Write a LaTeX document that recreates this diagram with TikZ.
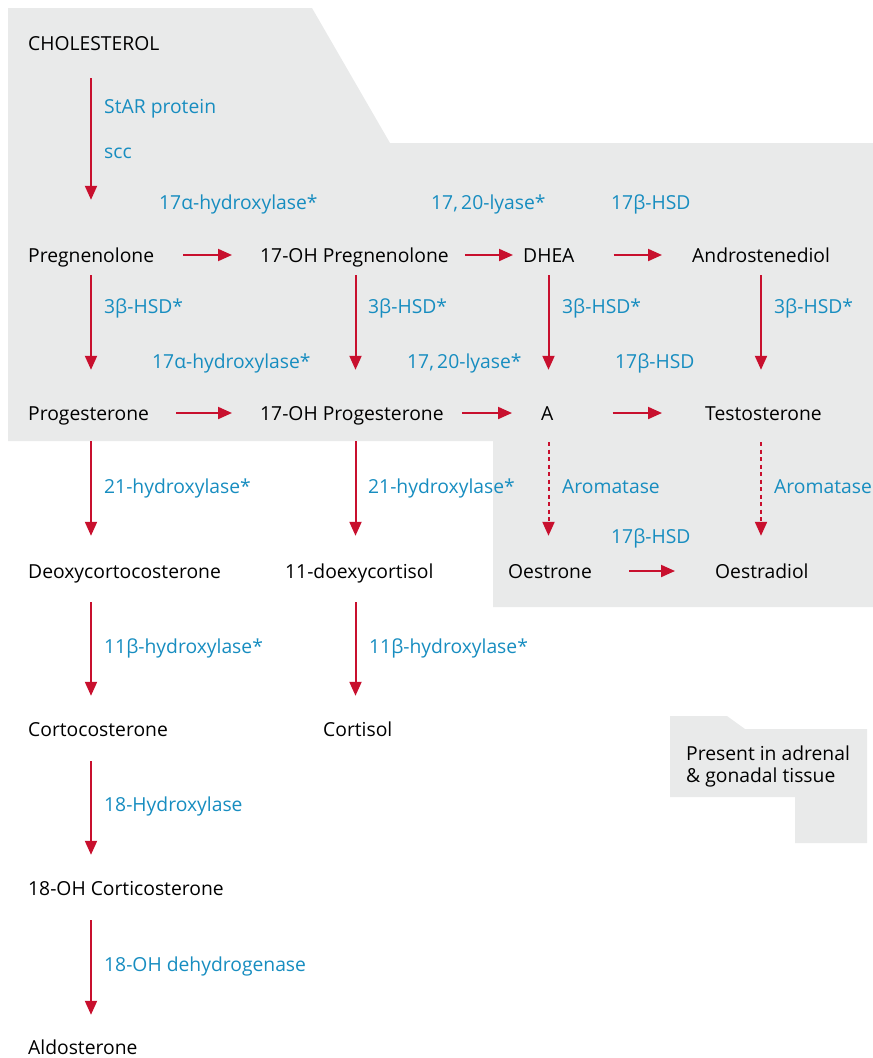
\documentclass[tikz,border=0pt]{standalone}
\usepackage{fontspec}
\setmainfont{Open Sans}
\usetikzlibrary{arrows.meta}
\definecolor{arrred}{HTML}{C8102E}
\definecolor{lblblue}{HTML}{178DC0}
\definecolor{bggrey}{HTML}{E9EAEA}
\begin{document}
\begin{tikzpicture}[x=1pt,y=-1pt,
  txt/.style={anchor=west, inner sep=0pt, text height=16pt, text depth=2pt, font=\fontsize{19.3}{22}\selectfont},
  lbl/.style={txt, text=lblblue},
  arr/.style={draw=arrred, line width=2pt, -{Triangle[length=14pt,width=12pt]}},
  darr/.style={arr, dash pattern=on 4pt off 3.5pt}]
\useasboundingbox (0,0) rectangle (873,1058);
% grey regions
\fill[bggrey] (8,8) -- (312,8) -- (390,143) -- (873,143) -- (873,607) -- (493,607) -- (493,441) -- (8,441) -- cycle;
\fill[bggrey] (670,716) -- (727,716) -- (745,729) -- (867,729) -- (867,843) -- (795,843) -- (795,797) -- (670,797) -- cycle;
% column coordinates
\coordinate (c1) at (91,0);
\coordinate (c2) at (355.5,0);
\coordinate (c3) at (548.5,0);
\coordinate (c4) at (761,0);
% compounds
\node[txt] (chol) at (28,43) {CHOLESTEROL};
\node[txt] (preg) at (28,255) {Pregnenolone};
\node[txt] (ohpreg) at (260,255) {17-OH Pregnenolone};
\node[txt] (dhea) at (523,255) {DHEA};
\node[txt] (andro) at (692,255) {Androstenediol};
\node[txt] (prog) at (28,413) {Progesterone};
\node[txt] (ohprog) at (260,413) {17-OH Progesterone};
\node[txt] (a) at (541,413) {A};
\node[txt] (testo) at (705,413) {Testosterone};
\node[txt] (deoxy) at (28,571) {Deoxycortocosterone};
\node[txt] (doexy) at (285,571) {11-doexycortisol};
\node[txt] (oestrone) at (508,571) {Oestrone};
\node[txt] (oestradiol) at (715,571) {Oestradiol};
\node[txt] (corto) at (28,729) {Cortocosterone};
\node[txt] (cortisol) at (323,729) {Cortisol};
\node[txt] (ohcort) at (28,888) {18-OH Corticosterone};
\node[txt] (aldo) at (28,1047) {Aldosterone};
% enzyme labels
\node[lbl] (l1) at (104,106) {StAR protein};
\node[lbl] (l2) at (104,151) {scc};
\node[lbl] (l3) at (159,202) {17α-hydroxylase*};
\node[lbl] (l4) at (431,202) {17,\,20-lyase*};
\node[lbl] (l5) at (611,202) {17β-HSD};
\node[lbl] (l6) at (104,306) {3β-HSD*};
\node[lbl] (l7) at (368,306) {3β-HSD*};
\node[lbl] (l8) at (562,306) {3β-HSD*};
\node[lbl] (l9) at (774,306) {3β-HSD*};
\node[lbl] (l10) at (152,361) {17α-hydroxylase*};
\node[lbl] (l11) at (407,361) {17,\,20-lyase*};
\node[lbl] (l12) at (615,361) {17β-HSD};
\node[lbl] (l13) at (104,486) {21-hydroxylase*};
\node[lbl] (l14) at (368,486) {21-hydroxylase*};
\node[lbl] (l15) at (562,486) {Aromatase};
\node[lbl] (l16) at (774,486) {Aromatase};
\node[lbl] (l17) at (611,536) {17β-HSD};
\node[lbl] (l18) at (104,646) {11β-hydroxylase*};
\node[lbl] (l19) at (369,646) {11β-hydroxylase*};
\node[lbl] (l20) at (104,804) {18-Hydroxylase};
\node[lbl] (l21) at (104,964) {18-OH dehydrogenase};
% legend
\node[txt] (leg1) at (686,753) {Present in adrenal};
\node[txt] (leg2) at (686,775) {\& gonadal tissue};
% vertical arrows
\draw[arr, shorten <=26pt, shorten >=46pt] (chol.south -| c1) -- (preg.north -| c1);
\draw[arr, shorten <=11pt, shorten >=34pt] (preg.south -| c1) -- (prog.north -| c1);
\draw[arr, shorten <=11pt, shorten >=34pt] (ohpreg.south -| c2) -- (ohprog.north -| c2);
\draw[arr, shorten <=11pt, shorten >=34pt] (dhea.south -| c3) -- (a.north -| c3);
\draw[arr, shorten <=11pt, shorten >=34pt] (andro.south -| c4) -- (testo.north -| c4);
\draw[arr, shorten <=19pt, shorten >=26pt] (prog.south -| c1) -- (deoxy.north -| c1);
\draw[arr, shorten <=19pt, shorten >=26pt] (ohprog.south -| c2) -- (doexy.north -| c2);
\draw[darr, shorten <=20pt, shorten >=26pt] (a.south -| c3) -- (oestrone.north -| c3);
\draw[darr, shorten <=20pt, shorten >=26pt] (testo.south -| c4) -- (oestradiol.north -| c4);
\draw[arr, shorten <=22pt, shorten >=24pt] (deoxy.south -| c1) -- (corto.north -| c1);
\draw[arr, shorten <=22pt, shorten >=24pt] (doexy.south -| c2) -- (cortisol.north -| c2);
\draw[arr, shorten <=23pt, shorten >=24pt] (corto.south -| c1) -- (ohcort.north -| c1);
\draw[arr, shorten <=23pt, shorten >=23pt] (ohcort.south -| c1) -- (aldo.north -| c1);
% horizontal arrows
\draw[arr, shorten <=29pt, shorten >=28pt] (preg.east) -- (ohpreg.west);
\draw[arr, shorten <=16pt, shorten >=10pt] (ohpreg.east) -- (dhea.west);
\draw[arr, shorten <=39pt, shorten >=30pt] (dhea.east) -- (andro.west);
\draw[arr, shorten <=27pt, shorten >=28pt] (prog.east) -- (ohprog.west);
\draw[arr, shorten <=18pt, shorten >=29pt] (ohprog.east) -- (a.west);
\draw[arr, shorten <=59pt, shorten >=43pt] (a.east) -- (testo.west);
\draw[arr, shorten <=37pt, shorten >=40pt] (oestrone.east) -- (oestradiol.west);
\end{tikzpicture}
\end{document}
